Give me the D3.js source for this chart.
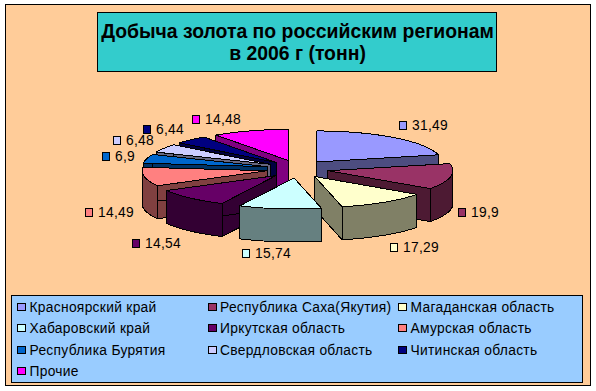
<!DOCTYPE html>
<html>
<head>
<meta charset="utf-8">
<script src="https://cdn.jsdelivr.net/npm/d3@7"></script>
<style>
  html, body { margin: 0; background: #fff; }
  text { font-family: "Liberation Sans", Arial, sans-serif; fill: #000; }
</style>
</head>
<body>
<div id="chart"></div>
<script>
const regions = ['Красноярский край', 'Республика Саха(Якутия)', 'Магаданская область',
  'Хабаровский край', 'Иркутская область', 'Амурская область',
  'Республика Бурятия', 'Свердловская область', 'Читинская область', 'Прочие'];
const tonnes = [31.49, 19.9, 17.29, 15.74, 14.54, 14.49, 6.9, 6.48, 6.44, 14.48];
const tonneLabels = ['31,49', '19,9', '17,29', '15,74', '14,54', '14,49', '6,9', '6,48', '6,44', '14,48'];
const colors = ['#9999ff', '#993366', '#ffffcc', '#ccffff', '#660066', '#ff8080', '#0066cc', '#ccccff', '#000080', '#ff00ff'];
const titleLines = ['Добыча золота по российским регионам', 'в 2006 г (тонн)'];

const width = 596, height = 391;
const cx = 297.5, cy = 169, rx = 125, ry = 31, depth = 33;
const explodeX = 31, explodeY = 9;
// hand tweaks for the value labels, the excel layout isn't quite radial
const labelNudge = [[6, -1], [1, 0], [8, -1], [4, -4], [-10, 1], [-8, -1], [-2, 1], [-5, -1], [-4, 0], [-15, 2]];

const svg = d3.select('#chart').append('svg')
  .attr('width', width)
  .attr('height', height)
  .style('display', 'block')
  .attr('shape-rendering', 'crispEdges');

// chart area
svg.append('rect')
  .attr('x', 5.5).attr('y', 4.5)
  .attr('width', 585).attr('height', 381)
  .attr('fill', '#ffcc99')
  .attr('stroke', '#000');

// title
svg.append('rect')
  .attr('x', 97.5).attr('y', 12.5)
  .attr('width', 399).attr('height', 59)
  .attr('fill', '#33cccc')
  .attr('stroke', '#000');

svg.selectAll('text.title')
  .data(titleLines)
  .join('text')
    .attr('class', 'title')
    .attr('x', 297.5)
    .attr('y', (d, i) => 38 + i * 22)
    .attr('text-anchor', 'middle')
    .attr('font-weight', 'bold')
    .attr('font-size', 19.4)
    .text(d => d);

// pie
const pie = d3.pie().sort(null).startAngle(0).endAngle(2 * Math.PI);
const slices = pie(tonnes).map((d, i) => {
  const mid = (d.startAngle + d.endAngle) / 2;
  return {
    i,
    a0: d.startAngle,
    a1: d.endAngle,
    mid,
    ox: cx + explodeX * Math.sin(mid),
    oy: cy - explodeY * Math.cos(mid),
  };
});

const outer = (s, a, drop = 0) => [s.ox + rx * Math.sin(a), s.oy - ry * Math.cos(a) + drop];
const arcPoints = (s, a0, a1, drop = 0) =>
  d3.range(0, 25).map(k => outer(s, a0 + (a1 - a0) * k / 24, drop));
const line = d3.line();

const g = svg.append('g').attr('stroke', '#000').attr('stroke-linejoin', 'round');

// back slices first
slices.slice().sort((a, b) => Math.cos(b.mid) - Math.cos(a.mid)).forEach(s => {
  const top = colors[s.i];
  const c = d3.color(top);
  const wall = d3.rgb(c.r * 0.5, c.g * 0.5, c.b * 0.5).formatHex();

  [s.a0, s.a1].forEach(a => {
    const p = outer(s, a), q = outer(s, a, depth);
    g.append('path')
      .attr('d', line([[s.ox, s.oy], p, q, [s.ox, s.oy + depth]]) + 'Z')
      .attr('fill', wall);
  });

  const w0 = Math.max(s.a0, Math.PI / 2), w1 = Math.min(s.a1, 3 * Math.PI / 2);
  if (w1 > w0) {
    g.append('path')
      .attr('d', line([...arcPoints(s, w0, w1), ...arcPoints(s, w1, w0, depth)]) + 'Z')
      .attr('fill', wall);
  }

  g.append('path')
    .attr('d', line([[s.ox, s.oy], ...arcPoints(s, s.a0, s.a1)]) + 'Z')
    .attr('fill', top);
});

// value labels
const labelFont = 13.8, labelSpacing = 0.3;
const label = svg.selectAll('g.value')
  .data(slices)
  .join('g')
    .attr('class', 'value');

label.append('rect')
  .attr('x', 0.5).attr('y', -3.5)
  .attr('width', 7).attr('height', 8)
  .attr('fill', d => colors[d.i])
  .attr('stroke', '#000');

label.append('text')
  .attr('x', 13)
  .attr('y', 5)
  .attr('font-size', labelFont)
  .attr('letter-spacing', labelSpacing)
  .text(d => tonneLabels[d.i]);

label.attr('transform', function(d) {
  const w = this.getBBox().width;
  const sx = Math.sin(d.mid), c = Math.cos(d.mid);
  const lx = cx + sx * 167 + Math.sign(sx) * 16 - w / 2 + labelNudge[d.i][0];
  const ly = cy - c * 55 + (c < 0 ? depth : 0) + labelNudge[d.i][1];
  return `translate(${Math.round(lx)},${Math.round(ly)})`;
});

// legend
const legend = svg.append('g');
legend.append('rect')
  .attr('x', 11.5).attr('y', 295.5)
  .attr('width', 571).attr('height', 87)
  .attr('fill', '#99ccff')
  .attr('stroke', '#000');

const cols = d3.scalePoint().domain([0, 1, 2]).range([17, 398]);
const rows = d3.scalePoint().domain([0, 1, 2, 3]).range([307, 371]);

const item = legend.selectAll('g.item')
  .data(regions)
  .join('g')
    .attr('class', 'item')
    .attr('transform', (d, i) => `translate(${cols(i % 3)},${rows(Math.floor(i / 3))})`);

item.append('rect')
  .attr('x', 0.5).attr('y', -3.5)
  .attr('width', 8).attr('height', 7)
  .attr('fill', (d, i) => colors[i])
  .attr('stroke', '#000');

item.append('text')
  .attr('x', 12.5)
  .attr('y', 5)
  .attr('font-size', labelFont)
  .attr('letter-spacing', labelSpacing)
  .text(d => d);
</script>
</body>
</html>
